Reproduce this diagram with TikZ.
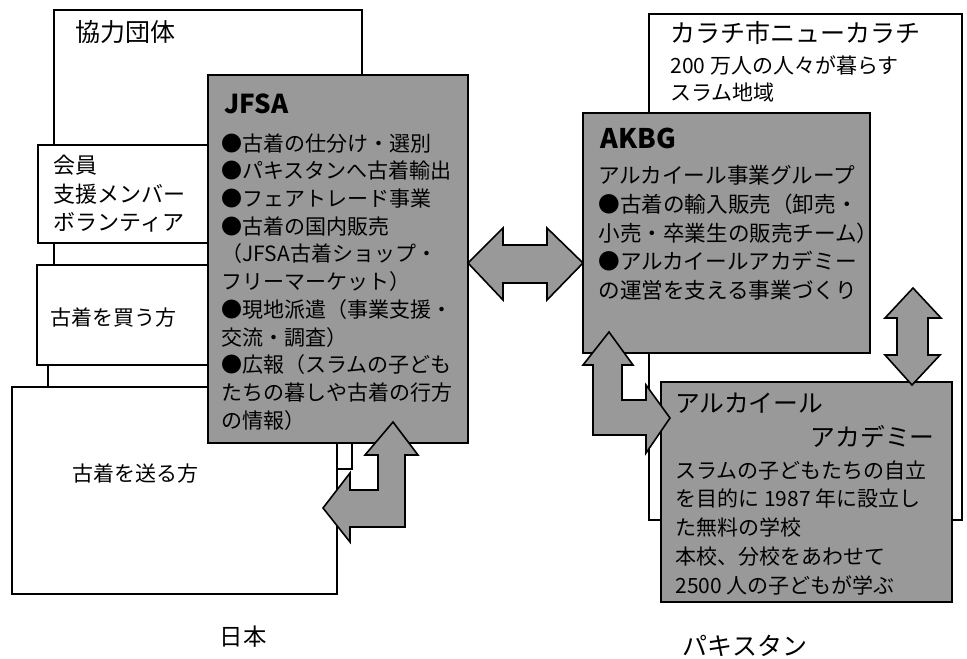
\documentclass[tikz,border=0pt]{standalone}
\usepackage{fontspec}
\setmainfont{Noto Sans CJK JP}

\begin{document}
\begin{tikzpicture}[boxstyle/.style={draw=black, fill=white, thick},
  graystyle/.style={draw=black, fill=black!40, thick},
  txt/.style={inner sep=0pt, anchor=west},
  blocktxt/.style={inner sep=0pt, anchor=north west, align=left},
  x=0.5pt, y=-0.5pt]
  \useasboundingbox (0,0) rectangle (967,658);

  % Japan side
  \draw[boxstyle](54,10) rectangle (362,265);
  \draw[boxstyle](38,145) rectangle (210,243);
  \draw[boxstyle](48,300) rectangle (352,469);
  \draw[boxstyle](37,265) rectangle (210,365);
  \draw[boxstyle](12,387) rectangle (337,594);
  \node[txt, font=\fontsize{12.5}{15}\selectfont] (kyoryoku) at (75,32) {協力団体};
  \node[blocktxt, font=\fontsize{11}{14.2}\selectfont] (kaiin) at (53,155) {会員\\支援メンバー\\ボランティア};
  \node[txt, font=\fontsize{10.5}{13}\selectfont] (kau) at (50,318) {古着を買う方};
  \node[txt, font=\fontsize{10.5}{13}\selectfont] (okuru) at (72,474) {古着を送る方};

  \draw[graystyle](208,75) rectangle (468,443);
  \node[txt, font=\fontsize{13}{15}\bfseries] (jfsa) at (224,104) {JFSA};
  \node[blocktxt, font=\fontsize{10.5}{13.85}\selectfont] (jfsatext) at (221,133)
    {●古着の仕分け・選別\\●パキスタンへ古着輸出\\●フェアトレード事業\\●古着の国内販売\\（JFSA古着ショップ・\\フリーマーケット）\\●現地派遣（事業支援・\\交流・調査）\\●広報（スラムの子ども\\たちの暮しや古着の行方\\の情報）};

  \draw[graystyle](393,422) -- (418,455) -- (405,455) -- (405,527) -- (350,527) -- (350,542)
    -- (323,508) -- (350,473) -- (350,490) -- (378,490) -- (378,455) -- (365,455) -- cycle;

  % Pakistan side
  \draw[boxstyle](649,14) rectangle (962,520);
  \node[txt, font=\fontsize{12.5}{15}\selectfont] (karachi) at (670,33) {カラチ市ニューカラチ};
  \node[blocktxt, font=\fontsize{10.5}{13.5}\selectfont] (slum) at (670,55) {200 万人の人々が暮らす\\スラム地域};

  \draw[graystyle](583,113) rectangle (870,353);
  \node[txt, font=\fontsize{13.5}{15}\bfseries] (akbg) at (600,138) {AKBG};
  \node[blocktxt, font=\fontsize{10.8}{14.4}\selectfont] (akbgtext) at (598,165)
    {アルカイール事業グループ\\●古着の輸入販売（卸売・\\小売・卒業生の販売チーム）\\●アルカイールアカデミー\\の運営を支える事業づくり};

  \draw[graystyle](661,382) rectangle (952,602);
  \node[txt, font=\fontsize{12.4}{15}\selectfont] (alkhair) at (675,403) {アルカイール};
  \node[inner sep=0pt, anchor=east, font=\fontsize{12.4}{15}\selectfont] (academy) at (935,437) {アカデミー};
  \node[blocktxt, font=\fontsize{10.5}{14.4}\selectfont] (academytext) at (675,460)
    {スラムの子どもたちの自立\\を目的に 1987 年に設立し\\た無料の学校\\本校、分校をあわせて\\2500 人の子どもが学ぶ};

  \draw[graystyle](609,332) -- (633,365) -- (622,365) -- (622,400) -- (646,400) -- (646,385)
    -- (670,418) -- (646,453) -- (646,435) -- (593,435) -- (593,365) -- (583,365) -- cycle;
  \draw[graystyle](913,288) -- (941,318) -- (928,318) -- (928,355) -- (940,355) -- (912,385)
    -- (885,355) -- (897,355) -- (897,318) -- (885,318) -- cycle;

  % between the two
  \draw[graystyle](468,263) -- (503,228) -- (503,245) -- (547,245) -- (547,228) -- (583,263)
    -- (547,300) -- (547,283) -- (503,283) -- (503,300) -- cycle;

  \node[font=\fontsize{11.7}{14}\selectfont] (nihon) at (243,637) {日本};
  \node[font=\fontsize{12.5}{15}\selectfont] (pakistan) at (745,646) {パキスタン};
\end{tikzpicture}
\end{document}
